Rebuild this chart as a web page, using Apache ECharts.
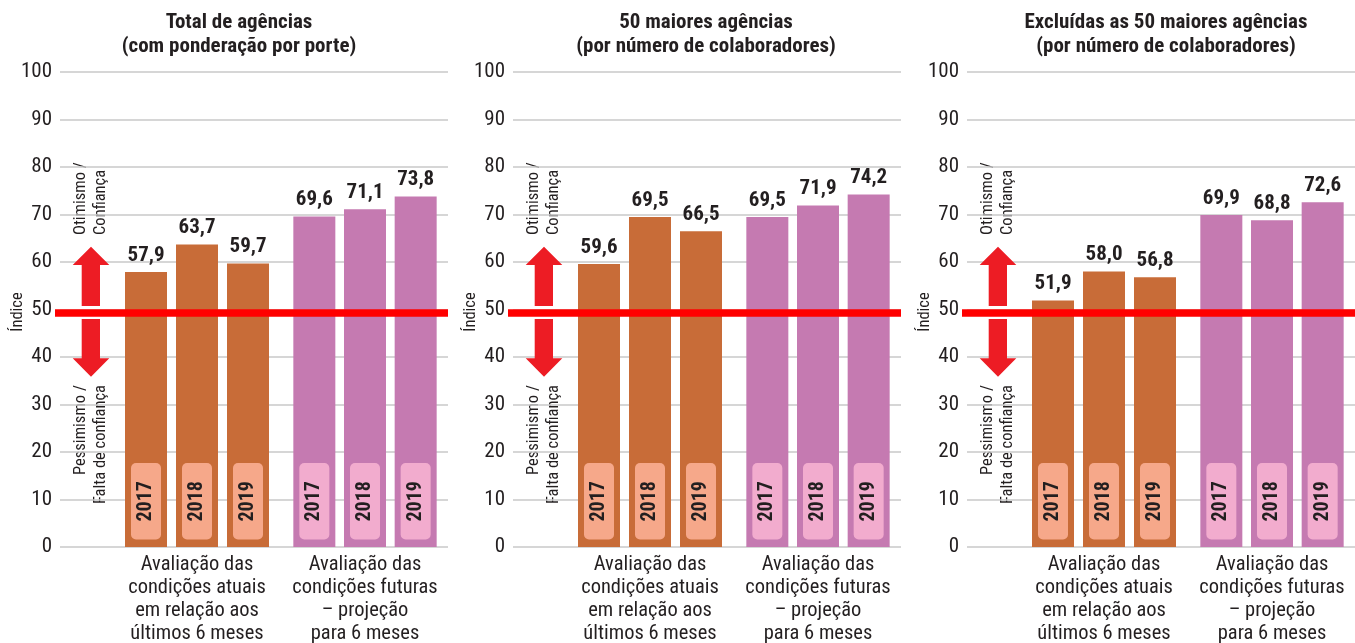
<!DOCTYPE html>
<html>
<head>
<meta charset="utf-8">
<script src="https://cdn.jsdelivr.net/npm/echarts@6/dist/echarts.min.js"></script>
<style>
html,body{margin:0;padding:0;background:#fff;}
#c{width:1355px;height:643px;}
</style>
</head>
<body>
<div id="c"></div>
<script>
// ---- data ----
const years = ['2017', '2018', '2019'];
const panelTitles = [
  'Total de agências\n(com ponderação por porte)',
  '50 maiores agências\n(por número de colaboradores)',
  'Excluídas as 50 maiores agências\n(por número de colaboradores)'
];
const atuais = [
  [57.9, 63.7, 59.7],
  [59.6, 69.5, 66.5],
  [51.9, 58.0, 56.8]
];
const futuras = [
  [69.6, 71.1, 73.8],
  [69.5, 71.9, 74.2],
  [69.9, 68.8, 72.6]
];
const groupLabels = [
  'Avaliação das\ncondições atuais\nem relação aos\núltimos 6 meses',
  'Avaliação das\ncondições futuras\n– projeção\npara 6 meses'
];
const yMin = 0, yMax = 100, yStep = 10;
const neutralLine = 49.4;
const upText = 'Otimismo /\nConfiança';
const downText = 'Pessimismo /\nFalta de confiança';
const axisTitle = 'Índice';

// ---- style ----
const FONT = '"Roboto Condensed","Noto Sans Condensed","Liberation Sans Narrow","DejaVu Sans Condensed",sans-serif';
const TXT = '#231f20';
const ORANGE = '#c86c38', ORANGE_L = '#f6a88a';
const PINK = '#c57ab1', PINK_L = '#f2acce';
const ARROW = '#ed1c24';
const ox = [0, 453, 907];
const titleCx = [234, 701, 1161];
const TOP = 72, BOTTOM = 96;

const grid = [], xAxis = [], yAxis = [], series = [], title = [], graphic = [];

function fmt(v) { return v.toFixed(1).replace('.', ','); }

function barSeries(idx, vals, color, boxColor) {
  return {
    type: 'bar', xAxisIndex: idx, yAxisIndex: idx,
    data: vals, barWidth: 42, z: 3,
    itemStyle: { color: color },
    label: {
      show: true, position: 'insideBottom', distance: 7.5, rotate: 90,
      align: 'left', verticalAlign: 'middle',
      formatter: (p) => years[p.dataIndex],
      fontFamily: FONT, fontWeight: 'bold', fontSize: 20, lineHeight: 20,
      color: TXT, backgroundColor: boxColor, borderRadius: 5,
      padding: [5, 18, 5, 18]
    },
    silent: true, animation: false
  };
}
function valueLabelSeries(idx, vals) {
  return {
    type: 'bar', xAxisIndex: idx, yAxisIndex: idx, data: vals, barWidth: 42,
    barGap: '-100%', z: 2, itemStyle: { color: 'transparent' },
    label: {
      show: true, position: 'top', distance: 6,
      formatter: (p) => fmt(p.value),
      fontFamily: FONT, fontWeight: 'bold', fontSize: 21, color: TXT
    },
    silent: true, animation: false
  };
}

for (let p = 0; p < 3; p++) {
  const o = ox[p];
  const base = grid.length;
  // background grid with axis and gridlines
  grid.push({ left: 60 + o, width: 388, top: TOP, bottom: BOTTOM, outerBoundsMode: 'none' });
  xAxis.push({ gridIndex: base, type: 'value', min: 0, max: 1, show: false });
  yAxis.push({
    gridIndex: base, type: 'value', min: yMin, max: yMax, interval: yStep,
    axisLine: { show: false }, axisTick: { show: false },
    axisLabel: { margin: 8, fontFamily: FONT, fontSize: 21, color: TXT },
    splitLine: { lineStyle: { color: '#c8c8c8', width: 1.5 } }
  });
  // orange group
  grid.push({ left: 120.5 + o, width: 153, top: TOP, bottom: BOTTOM, outerBoundsMode: 'none' });
  // pink group
  grid.push({ left: 289 + o, width: 152, top: TOP, bottom: BOTTOM, outerBoundsMode: 'none' });
  [0, 1].forEach((g) => {
    const gi = base + 1 + g;
    xAxis.push({
      gridIndex: gi, type: 'category', data: years,
      axisLine: { show: false }, axisTick: { show: false }, axisLabel: { show: false },
      name: groupLabels[g], nameLocation: 'middle', nameGap: 7,
      nameTextStyle: { fontFamily: FONT, fontSize: 20.5, lineHeight: 22.7, color: TXT, verticalAlign: 'top' }
    });
    yAxis.push({ gridIndex: gi, type: 'value', min: yMin, max: yMax, show: false });
  });
  series.push(barSeries(base + 1, atuais[p], ORANGE, ORANGE_L));
  series.push(valueLabelSeries(base + 1, atuais[p]));
  series.push(barSeries(base + 2, futuras[p], PINK, PINK_L));
  series.push(valueLabelSeries(base + 2, futuras[p]));
  // red neutral line grid
  grid.push({ left: 55 + o, width: 393, top: TOP, bottom: BOTTOM, outerBoundsMode: 'none' });
  xAxis.push({ gridIndex: base + 3, type: 'value', min: 0, max: 1, show: false });
  yAxis.push({ gridIndex: base + 3, type: 'value', min: yMin, max: yMax, show: false });
  series.push({
    type: 'line', xAxisIndex: base + 3, yAxisIndex: base + 3, data: [], z: 10,
    silent: true, animation: false,
    markLine: {
      symbol: 'none', silent: true, animation: false, label: { show: false },
      lineStyle: { color: '#ff0000', width: 7.5, type: 'solid' },
      data: [{ yAxis: neutralLine }]
    }
  });
  // title
  title.push({
    text: panelTitles[p], left: titleCx[p], top: 6, textAlign: 'center',
    textStyle: { fontFamily: FONT, fontWeight: 'bold', fontSize: 21, lineHeight: 24, color: TXT }
  });
  // arrows
  graphic.push({
    type: 'polygon', silent: true, z: 5,
    shape: { points: [[91 + o, 246.7], [109.3 + o, 265], [100 + o, 265], [100 + o, 306], [81.7 + o, 306], [81.7 + o, 265], [72.7 + o, 265]] },
    style: { fill: ARROW }
  });
  graphic.push({
    type: 'polygon', silent: true, z: 5,
    shape: { points: [[81.7 + o, 319], [100 + o, 319], [100 + o, 358.3], [109.3 + o, 358.3], [91 + o, 376.7], [72.7 + o, 358.3], [81.7 + o, 358.3]] },
    style: { fill: ARROW }
  });
  graphic.push({
    type: 'text', silent: true, x: 91 + o, y: 235, rotation: Math.PI / 2,
    style: { text: upText, fontFamily: FONT, fontSize: 16.5, lineHeight: 20, fill: TXT, align: 'left', verticalAlign: 'middle' }
  });
  graphic.push({
    type: 'text', silent: true, x: 91 + o, y: 385, rotation: Math.PI / 2,
    style: { text: downText, fontFamily: FONT, fontSize: 16.5, lineHeight: 20, fill: TXT, align: 'right', verticalAlign: 'middle' }
  });
  graphic.push({
    type: 'text', silent: true, x: 18 + o, y: 312, rotation: Math.PI / 2,
    style: { text: axisTitle, fontFamily: FONT, fontSize: 16.5, fill: TXT, align: 'center', verticalAlign: 'middle' }
  });
}

const chart = echarts.init(document.getElementById('c'), null, { renderer: 'canvas' });
chart.setOption({
  animation: false,
  backgroundColor: '#fff',
  title: title, grid: grid, xAxis: xAxis, yAxis: yAxis, series: series, graphic: graphic
});
</script>
</body>
</html>
